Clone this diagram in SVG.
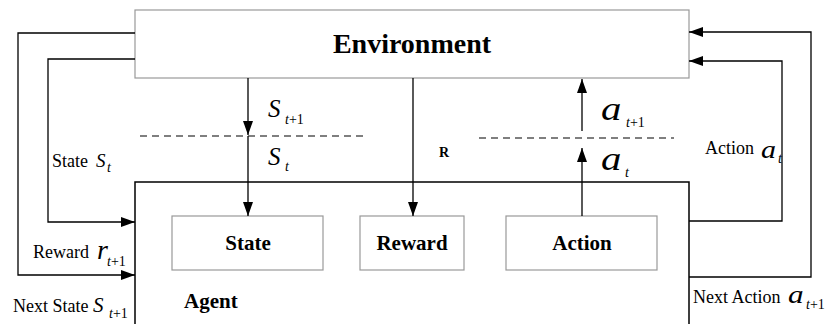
<svg xmlns="http://www.w3.org/2000/svg" width="829" height="324" viewBox="0 0 829 324">
<style>
.gbox{fill:#fff;stroke:#999;stroke-width:1.2}
.ln{fill:none;stroke:#000;stroke-width:1.3}
.dash{fill:none;stroke:#555;stroke-width:1.3;stroke-dasharray:7 5}
.bt{font-family:"Liberation Serif","Times New Roman",serif;font-weight:bold;fill:#000}
.lb{font-family:"Liberation Serif","Times New Roman",serif;font-size:18px;fill:#000}
.mi{font-family:"Liberation Serif","Times New Roman",serif;font-style:italic;fill:#000}
.sb{font-family:"Liberation Serif","Times New Roman",serif;font-size:14px;fill:#000}
</style>
<defs>
<marker id="ah" viewBox="0 0 14 10" refX="14" refY="5" markerWidth="14" markerHeight="10" markerUnits="userSpaceOnUse" orient="auto">
<path d="M0,0 L14,5 L0,10 Z" fill="#000"/>
</marker>
</defs>
<rect width="829" height="324" fill="#fff"/>
<g id="environment">
<rect class="gbox" x="135" y="10" width="554" height="68"/>
<text class="bt" x="412" y="53" font-size="28" text-anchor="middle">Environment</text>
</g>
<g id="agent">
<path d="M135,324 V182 H689 V324" fill="none" stroke="#000" stroke-width="1.5"/>
<text class="bt" x="184" y="308" font-size="21">Agent</text>
</g>
<g id="state">
<rect class="gbox" x="172" y="216" width="151" height="54"/>
<text class="bt" x="248" y="250" font-size="21" text-anchor="middle">State</text>
</g>
<g id="reward">
<rect class="gbox" x="360" y="216" width="104" height="54"/>
<text class="bt" x="412" y="250" font-size="21" text-anchor="middle">Reward</text>
</g>
<g id="action">
<rect class="gbox" x="506" y="216" width="151" height="54"/>
<text class="bt" x="582" y="250" font-size="21" text-anchor="middle">Action</text>
</g>
<g id="connectors">
<line class="dash" x1="140" y1="136" x2="368" y2="136"/>
<line class="dash" x1="479" y1="138" x2="674" y2="138"/>
<line class="ln" x1="248" y1="78" x2="248" y2="135" marker-end="url(#ah)"/>
<line class="ln" x1="248" y1="136" x2="248" y2="216" marker-end="url(#ah)"/>
<line class="ln" x1="413" y1="78" x2="413" y2="216" marker-end="url(#ah)"/>
<line class="ln" x1="582" y1="216" x2="582" y2="148" marker-end="url(#ah)"/>
<line class="ln" x1="582" y1="131" x2="582" y2="79" marker-end="url(#ah)"/>
<path class="ln" d="M135,33 H18 V275 H135" marker-end="url(#ah)"/>
<path class="ln" d="M135,59 H48 V222 H135" marker-end="url(#ah)"/>
<path class="ln" d="M689,277 H811 V32 H689" marker-end="url(#ah)"/>
<path class="ln" d="M689,221 H782 V61 H689" marker-end="url(#ah)"/>
</g>
<g id="labels">
<text class="mi" x="268" y="117" font-size="25">S</text>
<text class="sb" x="285" y="124"><tspan font-style="italic">t</tspan>+1</text>
<text class="mi" x="268" y="165" font-size="25">S</text>
<text class="sb" x="285" y="171" font-style="italic">t</text>
<text class="bt" x="439" y="157" font-size="14">R</text>
<text class="mi" transform="translate(601,120) scale(1.2,1)" font-size="34">a</text>
<text class="sb" x="626" y="127"><tspan font-style="italic">t</tspan>+1</text>
<text class="mi" transform="translate(601,170) scale(1.2,1)" font-size="34">a</text>
<text class="sb" x="625" y="177" font-style="italic">t</text>
<text class="lb" x="52" y="167">State</text>
<text class="mi" x="96" y="167" font-size="19">S</text>
<text class="sb" x="107" y="172" font-size="12" font-style="italic">t</text>
<text class="lb" x="33" y="258" font-size="19">Reward</text>
<text class="mi" x="97" y="259" font-size="28">r</text>
<text class="sb" x="107" y="266"><tspan font-style="italic">t</tspan>+1</text>
<text class="lb" x="13" y="312">Next State</text>
<text class="mi" x="93" y="312" font-size="21">S</text>
<text class="sb" x="109" y="318"><tspan font-style="italic">t</tspan>+1</text>
<text class="lb" x="705" y="154">Action</text>
<text class="mi" transform="translate(761,158) scale(1.2,1)" font-size="25">a</text>
<text class="sb" x="778" y="163" font-size="12" font-style="italic">t</text>
<text class="lb" x="693" y="303">Next Action</text>
<text class="mi" transform="translate(788,303) scale(1.2,1)" font-size="26">a</text>
<text class="sb" x="806" y="309"><tspan font-style="italic">t</tspan>+1</text>
</g>
</svg>
